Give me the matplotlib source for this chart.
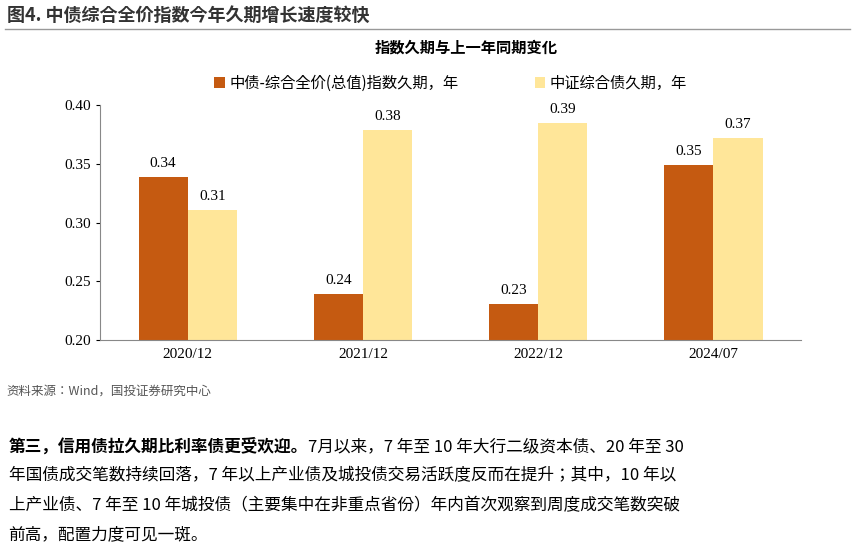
import matplotlib.pyplot as plt
import numpy as np

categories = ['2020/12', '2021/12', '2022/12', '2024/07']
cb_duration = [0.339, 0.239, 0.231, 0.349]
csi_duration = [0.311, 0.379, 0.385, 0.372]
series_names = ['中债-综合全价(总值)指数久期，年', '中证综合债久期，年']

cjk = ['Noto Sans CJK SC', 'Noto Sans CJK JP', 'Noto Sans CJK TC', 'Noto Sans CJK KR', 'DejaVu Sans']
serif = 'Liberation Serif'

fig = plt.figure(figsize=(8.55, 5.46), dpi=100)

fig.text(0.008, 0.972, '图4. 中债综合全价指数今年久期增长速度较快', fontfamily=cjk,
         fontsize=13, fontweight='bold', color='#333333', va='center')
fig.add_artist(plt.Line2D([0.006, 0.994], [0.946, 0.946], color='#999999', lw=1))
fig.text(0.545, 0.913, '指数久期与上一年同期变化', fontfamily=cjk, fontsize=11,
         fontweight='bold', ha='center', va='center')

ax = fig.add_axes([0.117, 0.377, 0.82, 0.43])
x = np.arange(len(categories))
w = 0.28
b1 = ax.bar(x - w / 2, cb_duration, w, color='#C55A11', label=series_names[0])
b2 = ax.bar(x + w / 2, csi_duration, w, color='#FFE699', label=series_names[1])
for bars, vals in ((b1, cb_duration), (b2, csi_duration)):
    for r, v in zip(bars, vals):
        ax.text(r.get_x() + r.get_width() / 2, v + 0.006, f'{v:.2f}', ha='center',
                va='bottom', fontfamily=serif, fontsize=11)
ax.set_ylim(0.2, 0.4)
ax.set_yticks([0.20, 0.25, 0.30, 0.35, 0.40])
ax.set_yticklabels([f'{t:.2f}' for t in ax.get_yticks()], fontfamily=serif, fontsize=11)
ax.set_xlim(-0.5, 3.5)
ax.set_xticks(x)
ax.set_xticklabels(categories, fontfamily=serif, fontsize=11)
ax.tick_params(axis='x', length=0, pad=6)
ax.tick_params(axis='y', direction='out', length=3)
for s in ('top', 'right'):
    ax.spines[s].set_visible(False)
for s in ('left', 'bottom'):
    ax.spines[s].set_color('#888888')
ax.legend(loc='lower center', bbox_to_anchor=(0.5, 1.0), ncol=2, frameon=False,
          prop={'family': cjk, 'size': 11}, handlelength=0.7,
          handleheight=0.7, columnspacing=5, handletextpad=0.3)

fig.text(0.008, 0.283, '资料来源：Wind，国投证券研究中心', fontfamily=cjk, fontsize=9,
         style='italic', color='#555555', va='center')

lines = [
    '7月以来，7 年至 10 年大行二级资本债、20 年至 30',
    '年国债成交笔数持续回落，7 年以上产业债及城投债交易活跃度反而在提升；其中，10 年以',
    '上产业债、7 年至 10 年城投债（主要集中在非重点省份）年内首次观察到周度成交笔数突破',
    '前高，配置力度可见一斑。',
]
ys = [0.182, 0.128, 0.074, 0.02]
t0 = fig.text(0.01, ys[0], '第三，信用债拉久期比利率债更受欢迎。', fontfamily=cjk,
              fontsize=12, fontweight='bold', va='center')
fig.canvas.draw()
bb = t0.get_window_extent().transformed(fig.transFigure.inverted())
fig.text(bb.x1, ys[0], lines[0], fontfamily=cjk, fontsize=12, va='center')
for s, y in zip(lines[1:], ys[1:]):
    fig.text(0.01, y, s, fontfamily=cjk, fontsize=12, va='center')

fig.savefig('out.png', dpi=100)
